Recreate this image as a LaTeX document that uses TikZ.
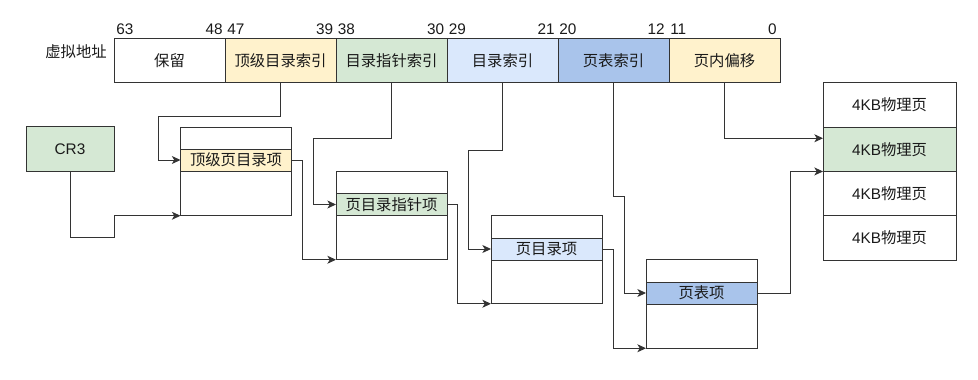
\documentclass[tikz,border=0pt]{standalone}
\usepackage{fontspec}
\setmainfont{Liberation Sans}
\newfontfamily\cjk{Noto Sans CJK SC}
\usetikzlibrary{arrows.meta,calc}
\definecolor{linec}{HTML}{333333}
\definecolor{txtc}{HTML}{1A1A1A}
\definecolor{yel}{HTML}{FFF2CC}
\definecolor{grn}{HTML}{D5E8D4}
\definecolor{lblue}{HTML}{DAE8FC}
\definecolor{dblue}{HTML}{A9C4EB}
\begin{document}
\begin{tikzpicture}[x=0.75pt,y=-0.75pt,
 every node/.style={font=\fontsize{11.5pt}{13.5pt}\selectfont, text=txtc},
 box/.style={draw=linec, line width=0.75pt, inner sep=0pt, outer sep=0pt,
   minimum width=111*0.75pt, minimum height=44.3*0.75pt},
 tbl/.style={draw=linec, line width=0.75pt, inner sep=0pt, outer sep=0pt,
   minimum width=111*0.75pt, minimum height=88.5*0.75pt},
 rowbox/.style={box, minimum height=22*0.75pt},
 pagebox/.style={box, minimum width=133*0.75pt},
 bitnum/.style={inner sep=0pt, font=\fontsize{11.5pt}{13pt}\selectfont},
 conn/.style={draw=linec, line width=0.75pt, -{Stealth[length=6.5pt,width=6pt,inset=1.8pt]}}
]
\useasboundingbox (0,0) rectangle (978,379);

% label
\node[anchor=east, inner sep=0pt] (va) at (107,52) {\cjk 虚拟地址};

% top bar
\node[box] (s1) at (169.5,60.5) {\cjk 保留};
\node[box, fill=yel] (s2) at (280.5,60.5) {\cjk 顶级目录索引};
\node[box, fill=grn] (s3) at (391.5,60.5) {\cjk 目录指针索引};
\node[box, fill=lblue] (s4) at (502.5,60.5) {\cjk 目录索引};
\node[box, fill=dblue] (s5) at (613.5,60.5) {\cjk 页表索引};
\node[box, fill=yel] (s6) at (724.5,60.5) {\cjk 页内偏移};

% bit numbers
\node[bitnum, anchor=west] (b63) at (116,29) {63};
\node[bitnum, anchor=east] (b48) at (223,29) {48};
\node[bitnum, anchor=west] (b47) at (227,29) {47};
\node[bitnum, anchor=east] (b39) at (333.5,29) {39};
\node[bitnum, anchor=west] (b38) at (337.5,29) {38};
\node[bitnum, anchor=east] (b30) at (444.5,29) {30};
\node[bitnum, anchor=west] (b29) at (448.5,29) {29};
\node[bitnum, anchor=east] (b21) at (555,29) {21};
\node[bitnum, anchor=west] (b20) at (559,29) {20};
\node[bitnum, anchor=east] (b12) at (665,29) {12};
\node[bitnum, anchor=west] (b11) at (670,29) {11};
\node[bitnum, anchor=east] (b0) at (777,29) {0};

% CR3
\node[box, fill=grn, minimum width=88*0.75pt] (cr3) at (70,149) {CR3};

% tables
\node[tbl] (t1) at (236,171.5) {};
\node[rowbox, fill=yel] (r1) at (236,160) {\cjk 顶级页目录项};
\node[tbl] (t2) at (391.5,215.5) {};
\node[rowbox, fill=grn] (r2) at (391.5,204.5) {\cjk 页目录指针项};
\node[tbl] (t3) at (546.5,259.5) {};
\node[rowbox, fill=lblue] (r3) at (546.5,249) {\cjk 页目录项};
\node[tbl] (t4) at (701.5,304) {};
\node[rowbox, fill=dblue] (r4) at (701.5,293) {\cjk 页表项};

% physical pages
\node[pagebox] (p1) at (889.5,105.1) {4KB{\cjk 物理页}};
\node[pagebox, fill=grn] (p2) at (889.5,149.4) {4KB{\cjk 物理页}};
\node[pagebox] (p3) at (889.5,193.6) {4KB{\cjk 物理页}};
\node[pagebox] (p4) at (889.5,237.9) {4KB{\cjk 物理页}};

% connectors
\draw[conn] (s2.south) |- (158,116) |- (r1.west);
\draw[conn] (cr3.south) |- (114,237.5) |- (t1.south west);
\draw[conn] (r1.east) -- ++(11,0) |- (t2.south west);
\draw[conn] (s3.south) |- (313,138) |- (r2.west);
\draw[conn] (r2.east) -- ++(10.5,0) |- (t3.south west);
\draw[conn] (s4.south) |- (468.5,150.5) |- (r3.west);
\draw[conn] (r3.east) -- ++(11,0) |- (t4.south west);
\draw[conn] (s5.south) |- (624.5,196) |- (r4.west);
\draw[conn] (r4.east) -- ++(33,0) |- (p3.north west);
\draw[conn] (s6.south) |- ($(p2.north west)+(0,11)$);
\end{tikzpicture}
\end{document}
